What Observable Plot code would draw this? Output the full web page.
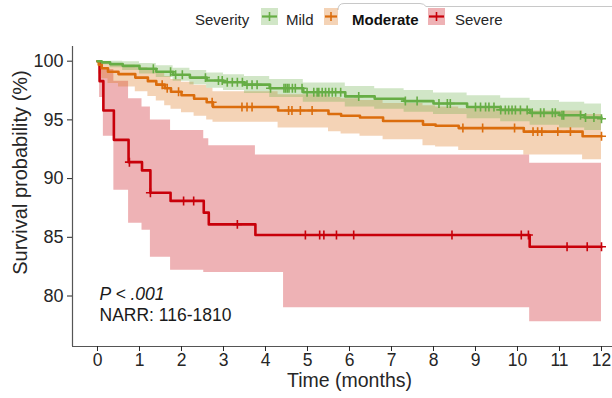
<!DOCTYPE html>
<html><head><meta charset="utf-8">
<script src="https://cdn.jsdelivr.net/npm/d3@7"></script>
<script src="https://cdn.jsdelivr.net/npm/@observablehq/plot@0.6"></script>
<style>
html,body{margin:0;padding:0;background:#fff;}
#wrap{position:relative;width:612px;height:398px;overflow:hidden;font-family:"Liberation Sans",Arial,sans-serif;}
#legend{position:absolute;left:0;top:0;}
</style></head><body>
<div id="wrap"><div id="chart"></div><svg id="legend" width="612" height="36"></svg></div>
<script>
// ---- data ----
const groups = ["Mild", "Moderate", "Severe"];
const lineColors = ["#66ad45", "#db6d0d", "#c8000a"];
const legendTitle = "Severity";
const xTicks = [0,1,2,3,4,5,6,7,8,9,10,11,12];
const yTicks = [80,85,90,95,100];
const pText = "P < .001";
const narrText = "NARR: 116-1810";

const mildTime  = [0, 0.1, 0.3, 0.6, 1.0, 1.4, 1.8, 2.2, 2.6, 3.0, 3.5, 4.1, 4.9, 5.9, 6.6, 7.3, 8.0, 8.8, 9.6, 10.3, 11.0, 11.6, 12.0];
const mildSurv  = [100, 99.9, 99.75, 99.6, 99.35, 99.1, 98.85, 98.6, 98.35, 98.2, 98.0, 97.7, 97.35, 97.0, 96.8, 96.6, 96.4, 96.1, 95.85, 95.6, 95.4, 95.2, 95.1];
const mildUpper = [100, 100, 100, 99.95, 99.8, 99.6, 99.4, 99.2, 99.0, 98.85, 98.7, 98.45, 98.15, 97.85, 97.65, 97.5, 97.3, 97.05, 96.85, 96.65, 96.5, 96.35, 96.3];
const mildLower = [100, 99.7, 99.45, 99.2, 98.9, 98.6, 98.3, 98.0, 97.7, 97.5, 97.25, 96.9, 96.5, 96.1, 95.9, 95.65, 95.45, 95.1, 94.85, 94.55, 94.3, 94.1, 94.0];
const mildCensor = [1.33, 1.74, 1.86, 2.02, 2.57, 2.88, 2.97, 3.09, 3.21, 3.33, 3.45, 3.56, 3.68, 3.80, 4.12, 4.44, 4.48, 4.52, 4.56, 4.64, 4.71, 4.87, 4.99, 5.15, 5.23, 5.27, 5.35, 5.43, 5.51, 5.59, 5.67, 5.79, 6.22, 7.33, 7.61, 8.13, 8.33, 8.40, 9.00, 9.12, 9.24, 9.32, 9.44, 9.60, 9.71, 9.79, 9.87, 9.95, 10.07, 10.23, 10.35, 10.55, 10.63, 10.83, 10.90, 11.06, 11.10, 11.50, 11.62, 11.82, 12.0];

const modTime  = [0, 0.03, 0.1, 0.25, 0.5, 0.9, 1.2, 1.4, 1.6, 1.75, 2.0, 2.3, 2.6, 2.75, 4.3, 5.5, 5.8, 6.25, 6.8, 7.75, 8.05, 8.6, 10.15, 11.55, 12.0];
const modSurv  = [100, 99.7, 99.4, 99.1, 98.9, 98.6, 98.3, 98.0, 97.7, 97.4, 97.1, 96.8, 96.5, 96.1, 95.8, 95.5, 95.35, 95.2, 94.9, 94.6, 94.5, 94.3, 94.0, 93.6, 93.6];
const modUpper = [100, 100, 99.95, 99.8, 99.65, 99.45, 99.2, 98.95, 98.7, 98.45, 98.2, 97.95, 97.7, 97.4, 97.15, 96.9, 96.8, 96.65, 96.4, 96.2, 96.1, 95.95, 95.75, 95.45, 95.45];
const modLower = [100, 98.9, 98.5, 98.1, 97.8, 97.4, 97.0, 96.6, 96.2, 95.9, 95.6, 95.3, 95.0, 94.8, 94.3, 94.0, 93.8, 93.6, 93.3, 92.8, 92.7, 92.4, 92.0, 91.6, 91.6];
const modCensor = [1.54, 1.66, 1.93, 2.73, 3.44, 3.56, 3.68, 4.55, 4.63, 4.83, 5.11, 8.70, 9.17, 9.93, 10.37, 10.48, 10.58, 10.96, 11.26, 12.0];

const sevTime  = [0, 0.05, 0.14, 0.39, 0.74, 1.06, 1.26, 1.74, 2.53, 2.65, 3.76, 4.43, 10.29, 12.0];
const sevSurv  = [100, 98.3, 95.8, 93.3, 91.4, 90.7, 88.8, 88.1, 87.1, 86.1, 85.2, 85.2, 84.2, 84.2];
const sevUpper = [100, 99.9, 99.3, 98.3, 96.8, 96.1, 95.0, 94.1, 93.4, 92.8, 92.0, 92.0, 91.3, 91.3];
const sevLower = [100, 96.9, 93.6, 89.0, 86.2, 85.6, 83.3, 82.2, 82.0, 82.0, 82.0, 79.0, 77.8, 77.8];
const sevCensor = [0.76, 1.26, 2.05, 2.29, 3.33, 4.95, 5.29, 5.39, 5.69, 6.1, 8.44, 10.09, 10.26, 11.18, 11.66, 12.0];

// ---- build tables ----
function rows(group, time, surv, lower, upper) {
  return time.map((t, i) => ({group, time: t, surv: surv[i], lower: lower[i], upper: upper[i]}));
}
function censorRows(group, ticks, time, surv) {
  return ticks.map(t => ({group, time: t, surv: surv[Math.max(0, d3.bisectRight(time, t) - 1)]}));
}
const curves = [
  ...rows("Severe", sevTime, sevSurv, sevLower, sevUpper),
  ...rows("Moderate", modTime, modSurv, modLower, modUpper),
  ...rows("Mild", mildTime, mildSurv, mildLower, mildUpper)
];
const censors = [
  ...censorRows("Severe", sevCensor, sevTime, sevSurv),
  ...censorRows("Moderate", modCensor, modTime, modSurv),
  ...censorRows("Mild", mildCensor, mildTime, mildSurv)
];

const xDom = [-0.595, 12.262];
const yDom = [75.7, 101.25];
const font = "'Liberation Sans', Arial, sans-serif";

const chart = Plot.plot({
  width: 612, height: 398,
  marginLeft: 72, marginRight: 0, marginTop: 46, marginBottom: 52,
  x: {domain: xDom},
  y: {domain: yDom},
  color: {domain: groups, range: lineColors},
  style: {fontFamily: font, background: "white", color: "#262626"},
  marks: [
    Plot.areaY(curves, {x: "time", y1: "lower", y2: "upper", z: "group", fill: "group", fillOpacity: 0.3, curve: "step-after"}),
    Plot.lineY(curves, {x: "time", y: "surv", z: "group", stroke: "group", strokeWidth: 2.6, curve: "step-after"}),
    Plot.dot(censors, {x: "time", y: "surv", stroke: "group", fill: "none", symbol: "plus", r: 3, strokeWidth: 1.6}),
    Plot.ruleX([xDom[0]], {stroke: "#555", strokeWidth: 1.2}),
    Plot.ruleY([yDom[0]], {stroke: "#555", strokeWidth: 1.2}),
    Plot.axisX({ticks: xTicks, tickSize: 5, tickPadding: 2, fontSize: 17.5, label: null, color: "#262626"}),
    Plot.axisY({ticks: yTicks, tickSize: 5, tickPadding: 4, fontSize: 18, label: null, color: "#262626"}),
    Plot.text([{x: 6}], {x: "x", text: () => "Time (months)", frameAnchor: "bottom", lineAnchor: "top", dy: 27, fontSize: 19.5, fill: "#262626"}),
    Plot.text(["Survival probability (%)"], {frameAnchor: "left", dx: -52, dy: -24, rotate: -90, fontSize: 20, textAnchor: "middle", fill: "#262626"}),
    Plot.text([{x: 0, y: 80.17}], {x: "x", y: "y", text: () => pText, dx: 2, textAnchor: "start", fontSize: 17.5, fontStyle: "italic", fill: "#1a1a1a"}),
    Plot.text([{x: 0, y: 78.36}], {x: "x", y: "y", text: () => narrText, dx: 2, textAnchor: "start", fontSize: 17.5, fill: "#1a1a1a"})
  ]
});
document.getElementById("chart").appendChild(chart);

// ---- legend (above the plot area) ----
const leg = d3.select("#legend").style("font-family", font);
leg.append("path")
  .attr("d", "M338,10 Q338,3.5 344,3.5 L420,3.5 Q424,3.5 426,6.5 L612,6.5")
  .attr("fill", "none").attr("stroke", "#c8c8c8").attr("stroke-width", 1);
leg.append("text").attr("x", 195).attr("y", 25).attr("font-size", 15).attr("fill", "#262626").text(legendTitle);
const keyX = [261, 324, 428];
const keyW = [17, 14, 17];
const labX = [286, 352, 455];
groups.forEach((g, i) => {
  const c = lineColors[i];
  leg.append("rect").attr("x", keyX[i]).attr("y", 8).attr("width", keyW[i]).attr("height", 17)
    .attr("fill", c).attr("fill-opacity", 0.3);
  leg.append("line").attr("x1", keyX[i] + 1).attr("x2", keyX[i] + keyW[i] - 1).attr("y1", 16.5).attr("y2", 16.5)
    .attr("stroke", c).attr("stroke-width", 2.2);
  leg.append("line").attr("x1", keyX[i] + keyW[i] / 2).attr("x2", keyX[i] + keyW[i] / 2).attr("y1", 12).attr("y2", 21)
    .attr("stroke", c).attr("stroke-width", 1.6);
  leg.append("text").attr("x", labX[i]).attr("y", 25).attr("font-size", 15)
    .attr("font-weight", g === "Moderate" ? "bold" : "normal")
    .attr("fill", g === "Moderate" ? "#111" : "#262626").text(g);
});
</script>
</body></html>
